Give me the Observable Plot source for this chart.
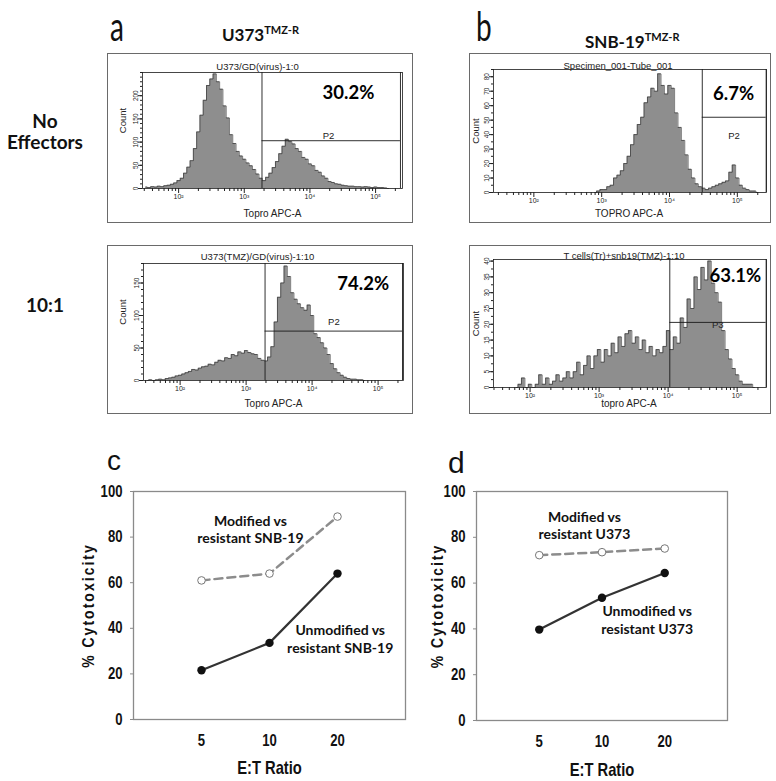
<!DOCTYPE html>
<html><head><meta charset="utf-8">
<script src="https://cdn.jsdelivr.net/npm/d3@7"></script>
<script src="https://cdn.jsdelivr.net/npm/@observablehq/plot@0.6"></script>
<style>
html,body{margin:0;padding:0;background:#fff;}
#fig{position:relative;width:776px;height:781px;overflow:hidden;background:#fff;}
.abs{position:absolute;}
.box{position:absolute;border:1px solid #6a6a6a;box-sizing:border-box;}
</style></head><body><div id="fig"></div>
<script>
// ---------------- DATA ----------------
const histStep = 0.05; // bin width in log10 units
// Panel a, no effectors (U373/GD(virus)-1:0)
const aNoEffStart = 1.50;
const aNoEffCounts = [3,2,4,3,5,4,6,7,9,12,17,22,33,46,60,86,122,158,190,222,236,247,230,214,178,152,116,97,80,70,63,55,49,41,31,22,17,24,33,45,58,75,91,106,101,96,86,80,67,63,53,49,39,35,27,22,15,13,10,9,7,6,5,5,4,4,3,4,3,2,3,2,2,1,0];
// Panel a, 10:1 (U373(TMZ)/GD(virus)-1:10)
const a10Start = 1.50;
const a10Counts = [0,1,0,1,2,1,3,4,5,7,8,10,12,14,17,16,19,21,22,25,24,28,31,30,35,34,40,38,44,42,46,43,41,40,34,31,30,36,52,90,128,150,176,160,135,125,118,112,108,116,100,72,66,58,50,40,26,18,12,8,5,3,2,2,1,1,0];
// Panel b, no effectors (Specimen_001-Tube_001)
const bNoEffStart = 2.90;
const bNoEffCounts = [0,1,2,2,4,5,10,12,15,20,25,33,40,47,52,62,66,72,70,82,74,68,74,72,55,45,36,26,16,10,6,4,3,2,3,4,5,6,7,8,14,19,10,5,3,2,1,1,0];
// Panel b, 10:1 (T cells(Tr)+snb19(TMZ)-1:10)
const b10Start = 1.80;
const b10Counts = [0,1,3,0,1,0,1,4,1,3,1,2,4,2,3,5,3,5,8,4,7,10,6,10,12,8,12,10,14,11,16,13,17,18,14,16,12,15,11,13,10,12,11,13,18,12,16,14,22,19,28,25,35,31,38,34,40,33,30,27,18,12,9,6,4,2,1,1,1,0];
// gates: [left gate, right gate, horizontal gate level]
const aNoEffGate = [10**3.27, 10**5.379, 103];
const a10Gate = [10**3.287, 10**5.37, 76];
const bNoEffGate = [10**4.483, 10**5.425, 52];
const b10Gate = [10**4.024, 10**5.42, 20.6];
const percents = ["30.2%", "74.2%", "6.7%", "63.1%"];

// Panels c and d
const ratios = ["5", "10", "20"];
const cModified = [61, 64, 89];
const cUnmodified = [21.6, 33.6, 64];
const dModified = [72.2, 73.5, 75.1];
const dUnmodified = [39.7, 53.6, 64.4];
const yTicksPct = [0, 20, 40, 60, 80, 100];

// ---------------- HELPERS ----------------
const SANS = '"Liberation Sans",Arial,sans-serif';
const CAL = 'Lato,"Open Sans",sans-serif';
const fig = document.getElementById("fig");
function place(el, left, top) {
  const w = document.createElement("div");
  w.className = "abs";
  w.style.left = left + "px"; w.style.top = top + "px";
  w.appendChild(el); fig.appendChild(w); return w;
}
function box(left, top, w, h) {
  const b = document.createElement("div");
  b.className = "box";
  Object.assign(b.style, {left: left+"px", top: top+"px", width: w+"px", height: h+"px"});
  fig.appendChild(b);
}
function html(text, css) {
  const d = document.createElement("div");
  d.className = "abs";
  d.innerHTML = text;
  Object.assign(d.style, css);
  fig.appendChild(d);
  return d;
}
const supDigits = {1:"¹",2:"²",3:"³",4:"⁴",5:"⁵"};

function histogram(o) {
  const data = o.counts.map((c, i) => ({x: Math.pow(10, o.start + i * histStep), y: c}));
  const xDom = [10 ** o.logDomain[0], 10 ** o.logDomain[1]];
  const decades = [1e2, 1e3, 1e4, 1e5];
  const minors = [];
  for (let e = 1; e <= 5; e++) for (let m = 2; m <= 9; m++) {
    const v = m * 10 ** e;
    if (v >= xDom[0] && v <= xDom[1]) minors.push(v);
  }
  const yMinor = d3.range(0, o.yMax + 1e-9, o.yMinorStep);
  const svg = Plot.plot({
    width: o.width, height: o.height,
    marginLeft: o.m[0], marginTop: o.m[1], marginRight: o.m[2], marginBottom: o.m[3],
    x: {type: "log", domain: xDom, label: null},
    y: {domain: [0, o.yMax], label: null},
    style: {fontFamily: SANS, fontSize: "7px", color: "#222", background: "transparent", overflow: "visible"},
    marks: [
      Plot.areaY(data, {x: "x", y: "y", curve: "step", fill: "#8e8e8e"}),
      Plot.lineY(data, {x: "x", y: "y", curve: "step", stroke: "#2a2a2a", strokeWidth: 0.6}),
      Plot.ruleX([o.gate[0]], {stroke: "#1a1a1a", strokeWidth: 0.9}),
      Plot.ruleX([o.gate[1]], {stroke: "#1a1a1a", strokeWidth: 0.9}),
      Plot.ruleY([o.gate[2]], {x1: o.gate[0], x2: o.gate[1], stroke: "#1a1a1a", strokeWidth: 0.9}),
      Plot.frame({stroke: "#1a1a1a", strokeWidth: 0.8}),
      Plot.axisX({ticks: decades, tickFormat: d => "10" + supDigits[Math.round(Math.log10(d))], tickSize: 5, tickPadding: 1, fontSize: 7}),
      Plot.axisX({ticks: minors, tickSize: 3, tickFormat: () => ""}),
      Plot.axisY({ticks: o.yTicks, tickSize: 4, tickRotate: -90, tickPadding: 1, fontSize: 6.5}),
      Plot.axisY({ticks: yMinor, tickSize: 2, tickFormat: () => ""}),
      Plot.text([o.title], {frameAnchor: "top", dx: o.titleOff[0], dy: o.titleOff[1], lineAnchor: "middle", fontSize: 9.5, fill: "#222"}),
      Plot.text([o.xLabel], {frameAnchor: "bottom", dx: o.xLabOff[0], dy: o.xLabOff[1], lineAnchor: "middle", fontSize: 10, fill: "#222"}),
      Plot.text(["Count"], {frameAnchor: "left", rotate: -90, textAnchor: "middle", dx: o.countOff[0], dy: o.countOff[1], lineAnchor: "middle", fontSize: 9.5, fill: "#222"}),
      Plot.text([o.gateName], {x: () => o.gateNamePos[0], y: () => o.gateNamePos[1], fontSize: 9.5, fill: "#222"}),
      Plot.text([o.pct], {x: () => o.pctPos[0], y: () => o.pctPos[1], fontSize: 18.5, fontWeight: 700, fontFamily: CAL, fill: "#000"})
    ]
  });
  return svg;
}

// emulate a narrow bold face by compressing text horizontally
function narrowText(svg, factor) {
  d3.select(svg).selectAll("text").each(function() {
    const g = this.parentNode;
    const ff = (g.getAttribute && g.getAttribute("font-family")) || "";
    if (ff.includes("Lato")) return;
    let t = this.getAttribute("transform") || "";
    const x = this.getAttribute("x");
    if (x && +x !== 0) { t = `translate(${x},0) ` + t; this.removeAttribute("x"); }
    this.setAttribute("transform", t + ` scale(${factor},1)`);
  });
}

function lineChart(o) {
  const pts = vals => vals.map((v, i) => ({x: i + 1, y: v}));
  const mod = pts(o.modified), unmod = pts(o.unmodified);
  const svg = Plot.plot({
    width: o.width, height: o.height,
    marginLeft: o.m[0], marginTop: o.m[1], marginRight: o.m[2], marginBottom: o.m[3],
    x: {domain: [0, 4], label: null},
    y: {domain: [0, 100], label: null},
    style: {fontFamily: SANS, fontWeight: "bold", fontSize: "16px", color: "#111", background: "transparent", overflow: "visible"},
    marks: [
      Plot.frame({stroke: "#8a8a8a", strokeWidth: 1.3}),
      Plot.axisY({ticks: yTicksPct, tickSize: 3, tickPadding: 8, fontSize: 16, stroke: "#8a8a8a", fill: "#111"}),
      Plot.axisX({ticks: [1, 2, 3], tickFormat: i => ratios[i - 1], tickSize: 0, tickPadding: 15, fontSize: 16, fill: "#111"}),
      Plot.line(mod, {x: "x", y: "y", stroke: "#8c8c8c", strokeWidth: 2.5, strokeDasharray: "8,5"}),
      Plot.line(unmod, {x: "x", y: "y", stroke: "#333", strokeWidth: 2.2}),
      Plot.dot(mod, {x: "x", y: "y", r: 3.8, fill: "white", stroke: "#777", strokeWidth: 1}),
      Plot.dot(unmod, {x: "x", y: "y", r: 4.2, fill: "#111"}),
      Plot.text([o.modLabel], {x: () => o.modPos[0], y: () => o.modPos[1], lineHeight: 1.25, fontSize: 14, fontFamily: CAL, fontWeight: 700, fill: "#111"}),
      Plot.text([o.unmodLabel], {x: () => o.unmodPos[0], y: () => o.unmodPos[1], lineHeight: 1.25, fontSize: 14, fontFamily: CAL, fontWeight: 700, fill: "#111"}),
      Plot.text(["% Cytotoxicity"], {frameAnchor: "left", rotate: -90, textAnchor: "middle", dx: o.yLabDx, lineAnchor: "middle", fontSize: 17, fill: "#111"}),
      Plot.text(["E:T Ratio"], {frameAnchor: "bottom", dy: o.xLabDy, lineAnchor: "middle", fontSize: 18, fill: "#111"})
    ]
  });
  d3.select(svg).selectAll("text").filter(function() { return this.textContent === "% Cytotoxicity"; })
    .style("letter-spacing", "2.5px");
  narrowText(svg, 0.82);
  return svg;
}

// ---------------- LAYOUT ----------------
// Titles
html("a", {left: "110px", top: "4px", fontFamily: CAL, fontSize: "28px", lineHeight: "28px", color: "#111", transform: "scaleY(1.48)", transformOrigin: "top left"});
html("b", {left: "476px", top: "4px", fontFamily: CAL, fontSize: "28px", lineHeight: "28px", color: "#111", transform: "scaleY(1.48)", transformOrigin: "top left"});
html('U373<sup style="font-size:11px;vertical-align:7px">TMZ-R</sup>', {left: "222px", top: "20px", fontFamily: CAL, fontWeight: 700, fontSize: "17px", lineHeight: "20px", color: "#111"});
html('SNB-19<sup style="font-size:11px;vertical-align:7px">TMZ-R</sup>', {left: "585px", top: "27px", fontFamily: CAL, fontWeight: 700, fontSize: "17px", lineHeight: "20px", color: "#111"});
html("No<br>Effectors", {left: "0px", top: "110px", width: "90px", textAlign: "center", fontFamily: CAL, fontWeight: 700, fontSize: "19px", lineHeight: "21px", color: "#111"});
html("10:1", {left: "0px", top: "294px", width: "90px", textAlign: "center", fontFamily: CAL, fontWeight: 700, fontSize: "19px", lineHeight: "21px", color: "#111"});

// Histogram boxes
box(107, 53, 306, 170);
box(107, 245, 306, 169);
box(469, 53, 302, 170);
box(469, 245, 302, 169);

place(histogram({
  counts: aNoEffCounts, start: aNoEffStart, logDomain: [1.45, 5.41], yMax: 250, yTicks: [0, 50, 100, 150, 200], yMinorStep: 10,
  width: 306, height: 170, m: [35, 19, 11, 35], gate: aNoEffGate,
  title: "U373/GD(virus)-1:0", titleOff: [-15, -6], xLabel: "Topro APC-A", xLabOff: [0, 25], countOff: [-20, -10],
  gateName: "P2", gateNamePos: [10 ** 4.283, 114], pct: percents[0], pctPos: [10 ** 4.587, 204.7]
}), 107, 53);

place(histogram({
  counts: a10Counts, start: a10Start, logDomain: [1.445, 5.385], yMax: 180, yTicks: [0, 50, 100, 150], yMinorStep: 10,
  width: 306, height: 169, m: [36, 18, 10, 34], gate: a10Gate,
  title: "U373(TMZ)/GD(virus)-1:10", titleOff: [-16, -7], xLabel: "Topro APC-A", xLabOff: [0, 23], countOff: [-21, -10],
  gateName: "P2", gateNamePos: [10 ** 4.33, 89.5], pct: percents[1], pctPos: [10 ** 4.775, 148.8]
}), 107, 245);

place(histogram({
  counts: bNoEffCounts, start: bNoEffStart, logDomain: [1.405, 5.43], yMax: 85, yTicks: [0, 10, 20, 30, 40, 50, 60, 70, 80], yMinorStep: 5,
  width: 302, height: 170, m: [24, 16, 5, 31], gate: bNoEffGate,
  title: "Specimen_001-Tube_001", titleOff: [-12, -4], xLabel: "TOPRO APC-A", xLabOff: [-1, 21], countOff: [-18, 0],
  gateName: "P2", gateNamePos: [10 ** 4.95, 39.4], pct: percents[2], pctPos: [10 ** 4.945, 68]
}), 469, 53);

place(histogram({
  counts: b10Counts, start: b10Start, logDomain: [1.47, 5.425], yMax: 40.5, yTicks: [0, 5, 10, 15, 20, 25, 30, 35, 40], yMinorStep: 2.5,
  width: 302, height: 169, m: [24, 14, 5, 27], gate: b10Gate,
  title: "T cells(Tr)+snb19(TMZ)-1:10", titleOff: [-6, -4], xLabel: "topro APC-A", xLabOff: [-1, 16], countOff: [-18, 0],
  gateName: "P3", gateNamePos: [10 ** 4.72, 19.9], pct: percents[3], pctPos: [10 ** 4.973, 35.2]
}), 469, 245);

// Panel letters c, d
html("c", {left: "107px", top: "447px", fontFamily: SANS, fontSize: "28px", lineHeight: "28px", color: "#111"});
html("d", {left: "448px", top: "448px", fontFamily: SANS, fontSize: "30px", lineHeight: "30px", color: "#111"});

place(lineChart({
  width: 350, height: 311, m: [73, 21, 5, 62],
  modified: cModified, unmodified: cUnmodified,
  modLabel: "Modified vs\nresistant SNB-19", modPos: [1.72, 83.7],
  unmodLabel: "Unmodified vs\nresistant SNB-19", unmodPos: [3.04, 35.5],
  yLabDx: -45, xLabDy: 49
}), 60, 470);

place(lineChart({
  width: 366, height: 311, m: [66, 21, 49, 61],
  modified: dModified, unmodified: dUnmodified,
  modLabel: "Modified vs\nresistant U373", modPos: [1.72, 85.5],
  unmodLabel: "Unmodified vs\nresistant U373", unmodPos: [2.72, 44.2],
  yLabDx: -39, xLabDy: 50
}), 410, 470);
</script>
</body></html>
